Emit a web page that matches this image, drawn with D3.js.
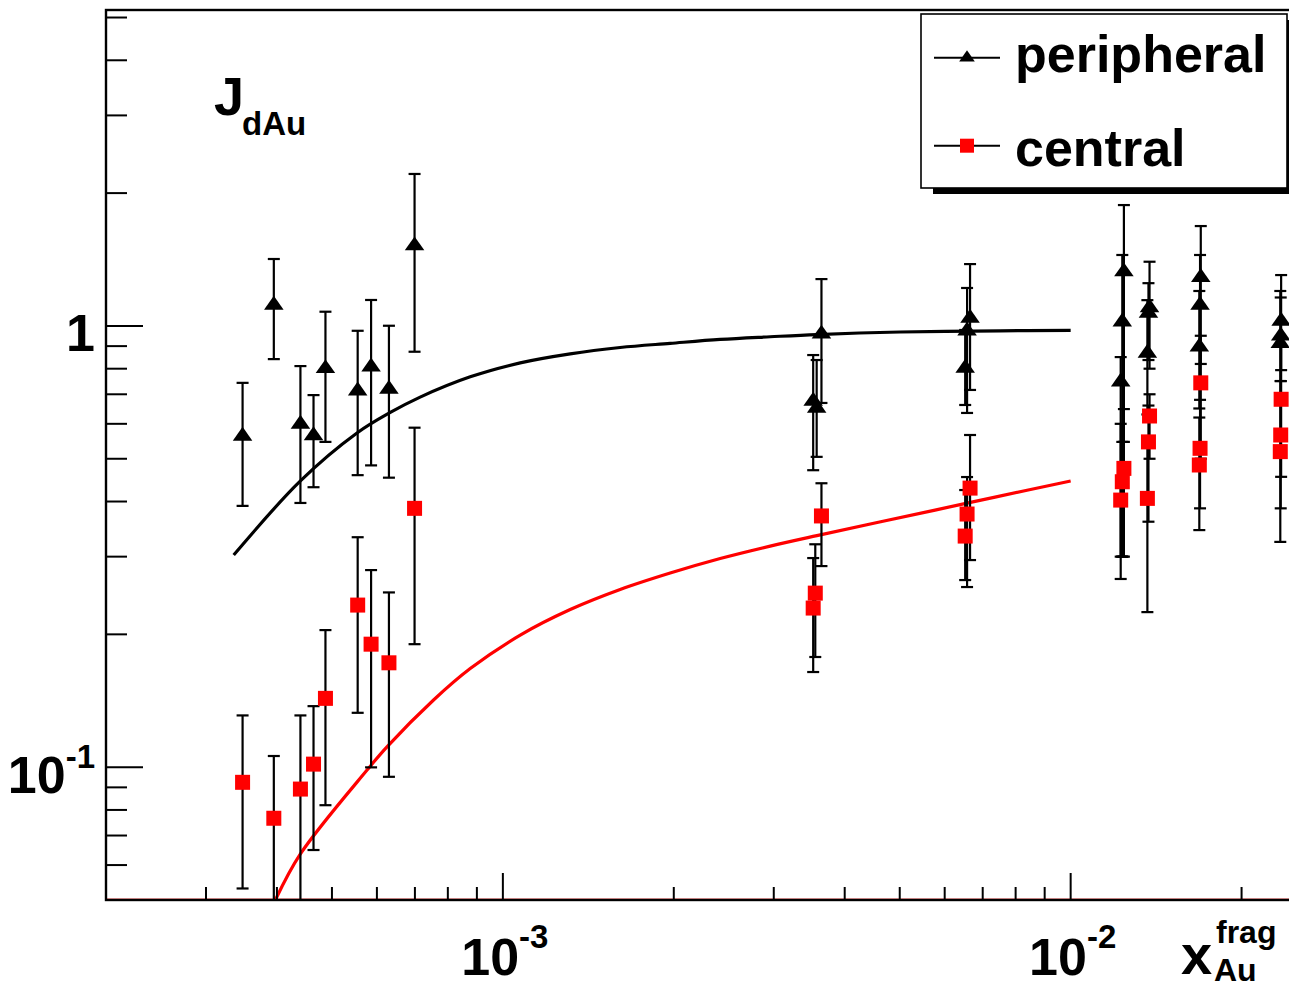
<!DOCTYPE html>
<html>
<head>
<meta charset="utf-8">
<script src="https://cdn.jsdelivr.net/npm/d3@7"></script>
<style>
  html, body { margin: 0; padding: 0; background: #fff; overflow: hidden; }
  svg { display: block; }
  text { font-family: "Liberation Sans", Arial, Helvetica, sans-serif; font-weight: bold; fill: #000; }
</style>
</head>
<body>
<svg id="chart" width="1289" height="988"></svg>
<script>
// ---- data ----
// peripheral collisions: x_Au^frag, J_dAu, error band (low / high)
const periX  = [3.48e-4, 3.95e-4, 4.40e-4, 4.64e-4, 4.87e-4, 5.55e-4, 5.86e-4, 6.30e-4, 6.99e-4,
                3.52e-3, 3.57e-3, 3.64e-3,
                6.52e-3, 6.57e-3, 6.65e-3,
                1.225e-2, 1.233e-2, 1.241e-2,
                1.365e-2, 1.371e-2, 1.377e-2,
                1.685e-2, 1.690e-2, 1.695e-2,
                2.340e-2, 2.344e-2, 2.348e-2];
const periY  = [0.563, 1.115, 0.599, 0.564, 0.801, 0.713, 0.808, 0.719, 1.52,
                0.676, 0.651, 0.959,
                0.803, 0.975, 1.042,
                0.747, 1.022, 1.327,
                0.868, 1.07, 1.10,
                0.897, 1.115, 1.289,
                0.913, 0.95, 1.026];
const periLo = [0.391, 0.841, 0.397, 0.431, 0.546, 0.459, 0.483, 0.453, 0.874,
                0.471, 0.505, 0.669,
                0.662, 0.635, 0.716,
                0.30, 0.30, 0.546,
                0.63, 0.837, 0.80,
                0.65, 0.75, 0.82,
                0.70, 0.75, 0.794];
const periHi = [0.743, 1.418, 0.811, 0.697, 1.077, 0.975, 1.145, 1.001, 2.21,
                0.859, 0.837, 1.277,
                0.979, 1.219, 1.381,
                0.85, 1.448, 1.879,
                1.144, 1.25, 1.398,
                1.20, 1.448, 1.684,
                1.20, 1.16, 1.304];

// central collisions
const centX  = [3.48e-4, 3.95e-4, 4.40e-4, 4.64e-4, 4.87e-4, 5.55e-4, 5.86e-4, 6.30e-4, 6.99e-4,
                3.52e-3, 3.55e-3, 3.64e-3,
                6.52e-3, 6.57e-3, 6.65e-3,
                1.225e-2, 1.233e-2, 1.241e-2,
                1.365e-2, 1.371e-2, 1.377e-2,
                1.685e-2, 1.690e-2, 1.695e-2,
                2.340e-2, 2.344e-2, 2.348e-2];
const centY  = [0.0924, 0.0766, 0.0892, 0.1016, 0.1432, 0.233, 0.190, 0.1724, 0.386,
                0.2294, 0.248, 0.371,
                0.334, 0.3747, 0.429,
                0.403, 0.4435, 0.4755,
                0.4066, 0.546, 0.625,
                0.484, 0.528, 0.743,
                0.519, 0.566, 0.682];
const centLo = [0.0531, 0.04, 0.045, 0.0649, 0.082, 0.1328, 0.0999, 0.0951, 0.190,
                0.1643, 0.1777, 0.2856,
                0.2655, 0.256, 0.2947,
                0.267, 0.30, 0.30,
                0.2246, 0.36, 0.50,
                0.3446, 0.386, 0.50,
                0.324, 0.386, 0.455];
const centHi = [0.131, 0.106, 0.131, 0.1375, 0.2045, 0.332, 0.2797, 0.2489, 0.588,
                0.2978, 0.320, 0.440,
                0.4247, 0.4545, 0.566,
                0.60, 0.546, 0.648,
                0.55, 0.66, 0.70,
                0.62, 0.68, 0.95,
                0.70, 0.75, 0.90];

// model curves
const periCurveX = [3.357e-4, 4.40e-4, 5.535e-4, 6.335e-4, 7.15e-4, 8.76e-4, 1.073e-3, 1.314e-3,
                    1.609e-3, 1.971e-3, 2.414e-3, 2.957e-3, 3.573e-3, 5.007e-3, 7.51e-3, 1.0e-2];
const periCurveY = [0.3025, 0.4454, 0.5719, 0.6366, 0.6898, 0.7668, 0.8248, 0.8645,
                    0.8934, 0.913, 0.932, 0.945, 0.956, 0.9687, 0.9747, 0.977];
const centCurveX = [3.975e-4, 4.40e-4, 5.765e-4, 6.25e-4, 7.55e-4, 8.76e-4, 1.073e-3, 1.314e-3,
                    1.609e-3, 1.971e-3, 2.414e-3, 2.957e-3, 3.573e-3, 5.77e-3, 7.36e-3, 1.0e-2];
const centCurveY = [0.05, 0.0636, 0.0985, 0.1112, 0.142, 0.1673, 0.1992, 0.2276,
                    0.2527, 0.2754, 0.2971, 0.3170, 0.3348, 0.3825, 0.4094, 0.4451];

// axes
const xMajorTicks = [1e-3, 1e-2];
const xMajorExp   = ["-3", "-2"];
const xMinorTicks = [3e-4, 4e-4, 5e-4, 6e-4, 7e-4, 8e-4, 9e-4,
                     2e-3, 3e-3, 4e-3, 5e-3, 6e-3, 7e-3, 8e-3, 9e-3, 2e-2];
const yMinorTicks = [0.06, 0.07, 0.08, 0.09, 0.2, 0.3, 0.4, 0.5, 0.6, 0.7, 0.8, 0.9, 2, 3, 4, 5];
const legendLabels = ["peripheral", "central"];

// ---- scales ----
const svg = d3.select("#chart");
const padL = 106, padR = 1296.6, padT = 10, padB = 900;
const x = d3.scaleLog().domain([2e-4, 0.025]).range([padL, padR]);
const y = d3.scaleLog().domain([0.05, 5.2]).range([padB, padT]);

svg.append("defs").append("clipPath").attr("id", "plotclip")
  .append("rect").attr("x", padL).attr("y", padT).attr("width", padR - padL).attr("height", padB - padT);

const plot = svg.append("g").attr("clip-path", "url(#plotclip)");

// faint red line along the lower edge
plot.append("line").attr("x1", padL).attr("x2", padR).attr("y1", padB - 0.5).attr("y2", padB - 0.5)
  .attr("stroke", "#f3a0a0").attr("stroke-width", 3);

// curves
const line = d3.line().x(d => x(d[0])).y(d => y(d[1])).curve(d3.curveCatmullRom.alpha(0.5));
plot.append("path").datum(periCurveX.map((v, i) => [v, periCurveY[i]]))
  .attr("d", line).attr("fill", "none").attr("stroke", "#000").attr("stroke-width", 3.2);
plot.append("path").datum(centCurveX.map((v, i) => [v, centCurveY[i]]))
  .attr("d", line).attr("fill", "none").attr("stroke", "#ff0000").attr("stroke-width", 3.2);

// error bars
function errorBars(xs, lo, hi) {
  const g = plot.append("g").attr("stroke", "#000").attr("stroke-width", 2.2);
  xs.forEach((xv, i) => {
    const px = x(xv);
    g.append("line").attr("x1", px).attr("x2", px).attr("y1", y(lo[i])).attr("y2", y(hi[i]));
    [lo[i], hi[i]].forEach(v => {
      g.append("line").attr("x1", px - 6).attr("x2", px + 6).attr("y1", y(v)).attr("y2", y(v));
    });
  });
}
errorBars(periX, periLo, periHi);
errorBars(centX, centLo, centHi);

// markers
const tri = d3.symbol().type(d3.symbolTriangle).size(125);
plot.append("g").selectAll("path").data(periX).join("path")
  .attr("d", tri)
  .attr("transform", (d, i) => `translate(${x(d)},${y(periY[i])}) scale(1.15,0.95)`)
  .attr("fill", "#000");
plot.append("g").selectAll("rect").data(centX).join("rect")
  .attr("x", d => x(d) - 7.5).attr("y", (d, i) => y(centY[i]) - 7.5)
  .attr("width", 15).attr("height", 15).attr("fill", "#ff0000");

// frame
svg.append("rect").attr("x", padL).attr("y", padT).attr("width", padR - padL).attr("height", padB - padT)
  .attr("fill", "none").attr("stroke", "#000").attr("stroke-width", 2.4);

// ticks
const tk = svg.append("g").attr("stroke", "#000").attr("stroke-width", 2);
xMajorTicks.forEach(v => tk.append("line").attr("x1", x(v)).attr("x2", x(v)).attr("y1", padB).attr("y2", padB - 27));
xMinorTicks.forEach(v => tk.append("line").attr("x1", x(v)).attr("x2", x(v)).attr("y1", padB).attr("y2", padB - 13));
[0.1, 1].forEach(v => tk.append("line").attr("x1", padL).attr("x2", padL + 37).attr("y1", y(v)).attr("y2", y(v)));
yMinorTicks.forEach(v => tk.append("line").attr("x1", padL).attr("x2", padL + 21).attr("y1", y(v)).attr("y2", y(v)));

// x tick labels
xMajorTicks.forEach((v, i) => {
  const t = svg.append("text").attr("x", x(v) + 2).attr("y", 975).attr("text-anchor", "middle")
    .style("font-size", "52px");
  t.append("tspan").text("10");
  t.append("tspan").attr("dy", -27).style("font-size", "33px").text(xMajorExp[i]);
});

// y tick labels
svg.append("text").attr("x", 95).attr("y", 351).attr("text-anchor", "end").style("font-size", "52px").text("1");
{
  const t = svg.append("text").attr("x", 95).attr("y", 793).attr("text-anchor", "end").style("font-size", "52px");
  t.append("tspan").text("10");
  t.append("tspan").attr("dy", -25).style("font-size", "33px").text("-1");
}

// axis titles
{
  const t = svg.append("text").attr("x", 214).attr("y", 115).style("font-size", "54px");
  t.append("tspan").text("J");
  t.append("tspan").attr("dy", 20).attr("dx", -2).style("font-size", "33px").text("dAu");
}
svg.append("text").attr("x", 1181).attr("y", 974).style("font-size", "56px").text("x");
svg.append("text").attr("x", 1216).attr("y", 943).style("font-size", "32px").text("frag");
svg.append("text").attr("x", 1214).attr("y", 981).style("font-size", "32px").text("Au");

// legend
const lg = svg.append("g");
lg.append("rect").attr("x", 933).attr("y", 20).attr("width", 370).attr("height", 174).attr("fill", "#000");
lg.append("rect").attr("x", 921).attr("y", 14).attr("width", 366).attr("height", 174)
  .attr("fill", "#fff").attr("stroke", "#000").attr("stroke-width", 1.6);
const rowY = [57.7, 145.7];
legendLabels.forEach((lab, i) => {
  lg.append("line").attr("x1", 934).attr("x2", 1000).attr("y1", rowY[i]).attr("y2", rowY[i])
    .attr("stroke", "#000").attr("stroke-width", 2);
  if (i === 0) {
    lg.append("path").attr("d", d3.symbol().type(d3.symbolTriangle).size(80))
      .attr("transform", `translate(967,${rowY[i]}) scale(1.15,0.95)`).attr("fill", "#000");
  } else {
    lg.append("rect").attr("x", 967 - 7).attr("y", rowY[i] - 7).attr("width", 14).attr("height", 14).attr("fill", "#ff0000");
  }
  lg.append("text").attr("x", 1015).attr("y", rowY[i] + 14 + (i === 0 ? 0 : 6)).style("font-size", "52px").text(lab);
});
</script>
</body>
</html>
